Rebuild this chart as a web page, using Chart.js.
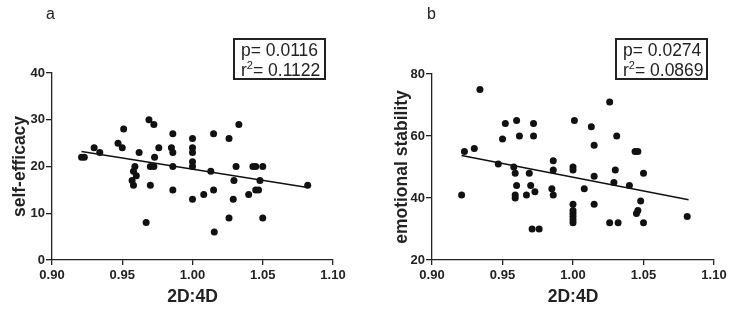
<!DOCTYPE html>
<html><head><meta charset="utf-8">
<script src="https://cdn.jsdelivr.net/npm/chart.js@4"></script>
<style>
body{margin:0;width:733px;height:313px;background:#fff;position:relative;overflow:hidden;font-family:"Liberation Sans",Arial,sans-serif;color:#222;}
canvas{position:absolute;top:0;}
.lbl{position:absolute;font-size:16px;line-height:16px;}
.stat{position:absolute;border:2px solid #222;font-size:17.5px;line-height:20px;padding:0 0 0 6px;box-sizing:border-box;white-space:nowrap;}
.stat sup{font-size:11px;line-height:0;vertical-align:7px;}
</style></head>
<body>
<canvas id="cA" width="366" height="313" style="left:0"></canvas>
<canvas id="cB" width="366" height="313" style="left:367px"></canvas>
<div class="lbl" style="left:46px;top:6px">a</div>
<div class="lbl" style="left:427px;top:6px">b</div>
<div class="stat" style="left:233px;top:38px;width:93px;height:42px">p= 0.0116<br>r<sup>2</sup>= 0.1122</div>
<div class="stat" style="left:615px;top:38px;width:93px;height:42px">p= 0.0274<br>r<sup>2</sup>= 0.0869</div>
<script>
// Panel a: self-efficacy vs 2D:4D
const xA = [0.921,0.923,0.930,0.934,0.947,0.950,0.951,0.962,0.959,0.958,0.960,0.957,0.958,0.967,0.969,0.9725,0.976,0.973,0.970,0.9725,0.970,0.986,0.985,0.986,0.986,0.986,1.000,1.000,1.000,1.000,1.000,1.000,1.008,1.015,1.013,1.015,1.0155,1.026,1.033,1.031,1.0295,1.029,1.026,1.043,1.045,1.050,1.048,1.040,1.045,1.047,1.050,1.082];
const yA = [22,22,24,23,25,24,28,23,20,19,18,17,16,8,30,29,24,22,20,20,16,27,24,23,20,15,26,24,23,21,20,13,14,27,19,15,6,26,29,20,17,13,9,20,20,20,17,14,15,15,9,16];
const fitXA = [0.921,1.082];
const fitYA = [23.2,15.5];
const yTicksA = [0,10,20,30,40];

// Panel b: emotional stability vs 2D:4D
const xB = [0.934,1.026,0.952,0.960,0.972,0.950,0.962,0.972,1.001,1.013,1.031,1.015,1.044,1.046,0.923,0.930,0.921,0.947,0.958,0.959,0.969,0.960,0.970,0.959,0.959,0.967,0.973,0.971,0.976,0.986,0.986,0.985,0.986,1.000,1.000,1.000,1.000,1.000,1.000,1.000,1.000,1.008,1.015,1.015,1.030,1.029,1.040,1.050,1.048,1.046,1.045,1.050,1.026,1.032,1.081];
const yB = [75,71,64,65,64,59,60,60,65,63,60,57,55,55,55,56,41,51,50,48,48,44,44,41,40,41,42,30,30,52,49,43,41,50,49,38,36,35,34,33,32,43,47,38,49,45,44,48,39,36,35,32,32,32,34];
const fitXB = [0.921,1.082];
const fitYB = [53.7,39.4];
const yTicksB = [20,40,60,80];

const xTicks = [0.90,0.95,1.00,1.05,1.10];
const xTitle = '2D:4D';

const INK = '#222';
const FONT = '"Liberation Sans", Arial, sans-serif';

function makeChart(id, xs, ys, fx, fy, yTicks, yTitle, g) {
  const pts = xs.map((x,i)=>({x:x, y:ys[i]}));
  const fit = fx.map((x,i)=>({x:x, y:fy[i]}));
  return new Chart(document.getElementById(id), {
    type: 'scatter',
    data: { datasets: [
      { data: pts, backgroundColor: '#111', borderWidth: 0, pointRadius: 3.5, pointHoverRadius: 3.5 },
      { data: fit, showLine: true, borderColor: '#111', borderWidth: 1.5, pointRadius: 0, fill: false }
    ]},
    options: {
      responsive: false, animation: false, devicePixelRatio: 1,
      layout: { padding: { left: 0, top: g.top, right: 366 - g.right, bottom: 0 } },
      plugins: { legend: { display: false }, tooltip: { enabled: false } },
      scales: {
        x: {
          type: 'linear', min: xTicks[0], max: xTicks[xTicks.length-1],
          afterBuildTicks: s => { s.ticks = xTicks.map(v=>({value:v})); },
          afterFit: s => { s.height = 313 - g.bottom; },
          grid: { drawOnChartArea: false, drawTicks: true, tickLength: 5, color: INK, lineWidth: 1.3 },
          border: { display: true, color: INK, width: 1.3 },
          ticks: { color: INK, padding: 3, maxRotation: 0, autoSkip: false,
                   font: { family: FONT, size: 13, weight: 'bold' },
                   callback: v => Number(v).toFixed(2) },
          title: { display: true, text: xTitle, color: INK, padding: { top: 0, bottom: 5.5 },
                   font: { family: FONT, size: 17.5, weight: 'bold' } }
        },
        y: {
          type: 'linear', min: yTicks[0], max: yTicks[yTicks.length-1],
          afterBuildTicks: s => { s.ticks = yTicks.map(v=>({value:v})); },
          afterFit: s => { s.width = g.left; },
          grid: { drawOnChartArea: false, drawTicks: true, tickLength: 6, color: INK, lineWidth: 1.3 },
          border: { display: true, color: INK, width: 1.3 },
          ticks: { color: INK, padding: 1, font: { family: FONT, size: 13, weight: 'bold' } },
          title: { display: true, text: yTitle, color: INK, padding: { top: g.titlePad, bottom: 0 },
                   font: { family: FONT, size: 17.5, weight: 'bold' } }
        }
      }
    }
  });
}

makeChart('cA', xA, yA, fitXA, fitYA, yTicksA, 'self-efficacy', { left: 52, right: 333, top: 73, bottom: 260, titlePad: 9.5 });
makeChart('cB', xB, yB, fitXB, fitYB, yTicksB, 'emotional stability', { left: 65, right: 347, top: 74, bottom: 260, titlePad: 24.5 });
</script>
</body></html>
